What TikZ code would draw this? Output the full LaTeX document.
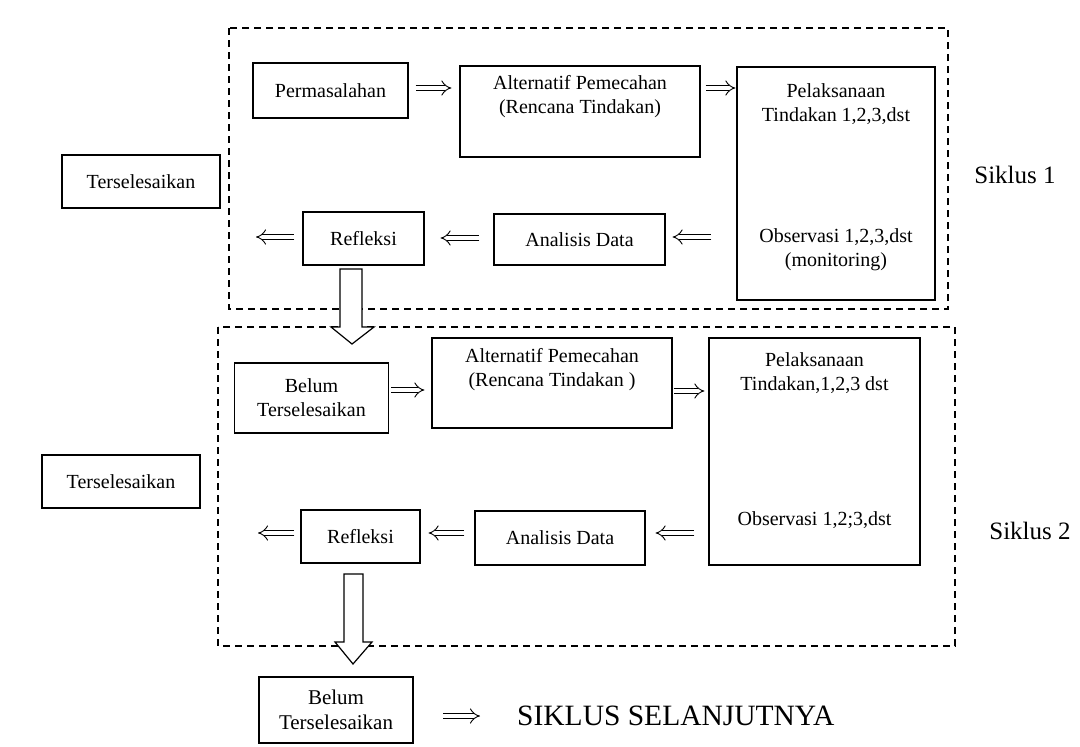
\documentclass[tikz,border=0pt]{standalone}
\usepackage{fontspec}
\setmainfont{Liberation Serif}
\usetikzlibrary{arrows.meta}
\begin{document}
\begin{tikzpicture}[x=1pt,y=-1pt,
  box/.style={draw, line width=1.1pt, inner sep=0pt},
  txt/.style={font=\fontsize{20}{24}\selectfont, align=center, inner sep=0pt},
  stxt/.style={font=\fontsize{21}{25}\selectfont, align=center, inner sep=0pt},
  big/.style={font=\fontsize{25}{30}\selectfont, inner sep=0pt},
  bigger/.style={font=\fontsize{29.5}{33}\selectfont, inner sep=0pt},
  dbl/.style={double, double distance=4.5pt, line width=0.9pt, -{Implies[length=6pt,width=14pt]}},
  frame/.style={dashed, dash pattern=on 7pt off 5pt, line width=1.3pt},
  bigarrow/.style={draw, fill=white, line width=1.2pt, line join=miter}]
\useasboundingbox[fill=white] (0,0) rectangle (1080,747);

% ---------- Siklus 1 ----------
\draw[frame] (229,28) rectangle (948,309);
\node[box, minimum width=155pt, minimum height=55pt] (perm) at (330.5,90.5) {};
\node[txt] (permt) at (perm.center) {Permasalahan};
\node[box, minimum width=240pt, minimum height=91pt] (alt1) at (580,111.5) {};
\node[txt] (alt1t) at (580,97) {Alternatif Pemecahan\\(Rencana Tindakan)};
\node[box, minimum width=198pt, minimum height=233pt] (pel1) at (836,183.5) {};
\node[txt] (pel1a) at (836,104) {Pelaksanaan\\Tindakan 1,2,3,dst};
\node[txt] (pel1b) at (836,250) {Observasi 1,2,3,dst\\(monitoring)};
\node[box, minimum width=158pt, minimum height=53pt] (ters1) at (141,181.5) {};
\node[txt] (ters1t) at (ters1.center) {Terselesaikan};
\node[box, minimum width=121pt, minimum height=53pt] (ref1) at (363.5,238.5) {};
\node[txt] (ref1t) at (ref1.center) {Refleksi};
\node[box, minimum width=171pt, minimum height=51pt] (ana1) at (579.5,239.5) {};
\node[txt] (ana1t) at (ana1.center) {Analisis Data};
\node[big] (sik1) at (1015,175) {Siklus 1};
\coordinate (out1) at (256,237);

\draw[dbl] ([xshift=7pt]perm.east |- 0,88) -- ([xshift=-8pt]alt1.west |- 0,88);
\draw[dbl] ([xshift=5pt]alt1.east |- 0,88) -- ([xshift=-1pt]pel1.west |- 0,88);
\draw[dbl] ([xshift=-25pt]pel1.west |- 0,237) -- ([xshift=7pt]ana1.east |- 0,237);
\draw[dbl] ([xshift=-14pt]ana1.west |- 0,238) -- ([xshift=16pt]ref1.east |- 0,238);
\draw[dbl] ([xshift=-8pt]ref1.west |- 0,237) -- (out1);

% ---------- Siklus 2 ----------
\draw[frame] (218,327) rectangle (955,646);
\node[box, minimum width=154pt, minimum height=70pt] (bel2) at (311.5,398) {};
\node[txt] (bel2t) at (bel2.center) {Belum\\Terselesaikan};
\node[box, minimum width=240pt, minimum height=90pt] (alt2) at (552,383) {};
\node[txt] (alt2t) at (552,370) {Alternatif Pemecahan\\(Rencana Tindakan )};
\node[box, minimum width=211pt, minimum height=227pt] (pel2) at (814.5,451.5) {};
\node[txt] (pel2a) at (814.5,373) {Pelaksanaan\\Tindakan,1,2,3 dst};
\node[txt] (pel2b) at (814.5,520) {Observasi 1,2;3,dst};
\node[box, minimum width=158pt, minimum height=53pt] (ters2) at (121,481.5) {};
\node[txt] (ters2t) at (ters2.center) {Terselesaikan};
\node[box, minimum width=119pt, minimum height=53pt] (ref2) at (360.5,536.5) {};
\node[txt] (ref2t) at (ref2.center) {Refleksi};
\node[box, minimum width=170pt, minimum height=54pt] (ana2) at (560,538) {};
\node[txt] (ana2t) at (ana2.center) {Analisis Data};
\node[big] (sik2) at (1030,531) {Siklus 2};
\coordinate (out2) at (258,533);

\draw[dbl] ([xshift=2pt]bel2.east |- 0,390) -- ([xshift=-7pt]alt2.west |- 0,390);
\draw[dbl] ([xshift=1pt]alt2.east |- 0,391) -- ([xshift=-4pt]pel2.west |- 0,391);
\draw[dbl] ([xshift=-14pt]pel2.west |- 0,533) -- ([xshift=10pt]ana2.east |- 0,533);
\draw[dbl] ([xshift=-10pt]ana2.west |- 0,533) -- ([xshift=8pt]ref2.east |- 0,533);
\draw[dbl] ([xshift=-6pt]ref2.west |- 0,533) -- (out2);

% ---------- big arrows ----------
\draw[bigarrow] (340,269) coordinate (ba1) -- (362,269) -- (362,327) -- (374,327) -- (352,344) coordinate (ba1tip) -- (331,327) -- (340,327) -- cycle;
\draw[bigarrow] (344,574) coordinate (ba2) -- (363,574) -- (363,642) -- (372,642) -- (353,664) coordinate (ba2tip) -- (335,642) -- (344,642) -- cycle;

% ---------- bottom ----------
\node[box, minimum width=154pt, minimum height=66pt] (bel3) at (336,710) {};
\node[stxt] (bel3t) at (bel3.center) {Belum\\Terselesaikan};
\node[bigger, anchor=west] (next) at (517,716) {SIKLUS SELANJUTNYA};
\draw[dbl] ([xshift=-74pt]next.west) -- ([xshift=-37pt]next.west);
\end{tikzpicture}
\end{document}
